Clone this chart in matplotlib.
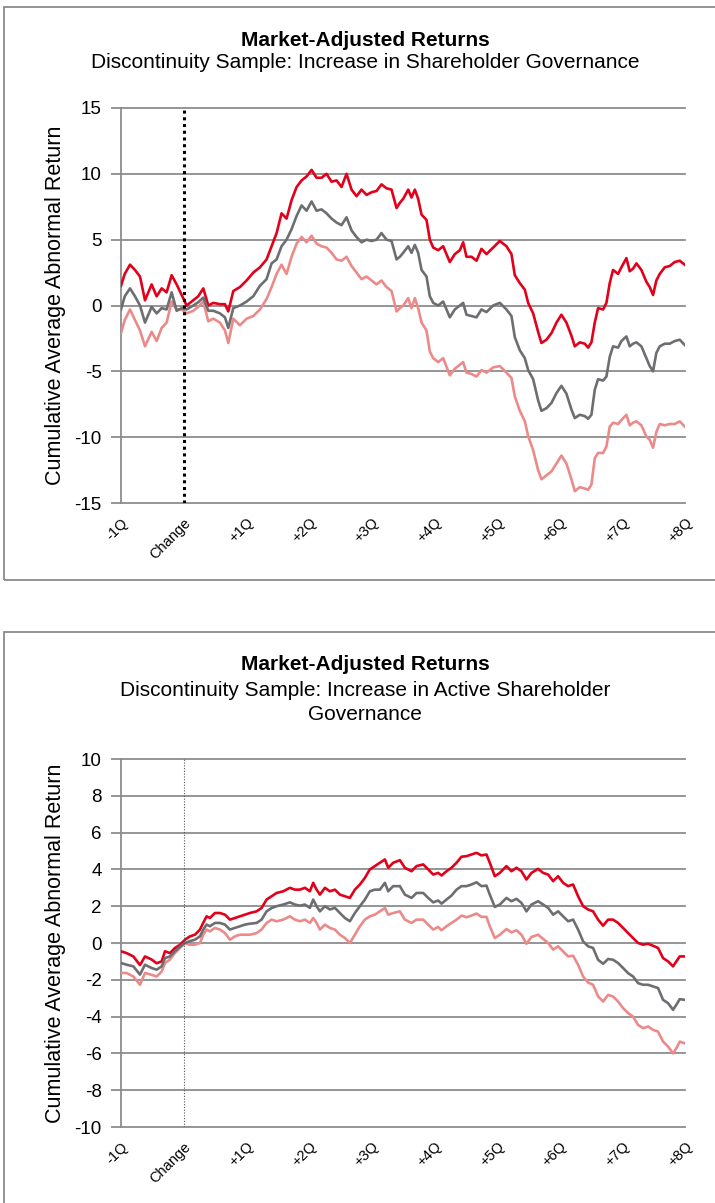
import numpy as np
import matplotlib
matplotlib.use("Agg")
import matplotlib.pyplot as plt
from matplotlib.patches import Rectangle

plt.rcParams['font.family'] = ['Liberation Sans', 'DejaVu Sans']

# x positions in quarters relative to the change (-1Q .. +8Q)
tick_pos = [-1, 0, 1, 2, 3, 4, 5, 6, 7, 8]
tick_labels = ['-1Q', 'Change', '+1Q', '+2Q', '+3Q', '+4Q', '+5Q', '+6Q', '+7Q', '+8Q']

# ---- panel 1: increase in shareholder governance ----
x_top = [-1.0, -0.94, -0.856, -0.777, -0.697, -0.617, -0.511, -0.431, -0.351, -0.272,
         -0.192, -0.112, -0.032, 0.047, 0.154, 0.233, 0.313, 0.393, 0.473, 0.579,
         0.659, 0.712, 0.792, 0.898, 1.004, 1.111, 1.217, 1.323, 1.403, 1.483,
         1.562, 1.642, 1.722, 1.802, 1.882, 1.961, 2.041, 2.121, 2.2, 2.28,
         2.36, 2.44, 2.519, 2.599, 2.679, 2.759, 2.838, 2.918, 2.998, 3.078,
         3.157, 3.237, 3.317, 3.397, 3.45, 3.503, 3.583, 3.636, 3.689, 3.742,
         3.796, 3.875, 3.928, 3.982, 4.061, 4.141, 4.247, 4.327, 4.407, 4.46,
         4.513, 4.593, 4.673, 4.752, 4.832, 4.939, 5.045, 5.151, 5.231, 5.284,
         5.364, 5.444, 5.497, 5.577, 5.656, 5.709, 5.789, 5.869, 5.949, 6.028,
         6.108, 6.188, 6.241, 6.321, 6.4, 6.454, 6.507, 6.56, 6.613, 6.693,
         6.746, 6.799, 6.852, 6.932, 6.985, 7.065, 7.118, 7.171, 7.225, 7.304,
         7.384, 7.437, 7.49, 7.543, 7.597, 7.677, 7.756, 7.836, 7.916, 7.995]
top_upper = [1.5, 2.4, 3.1, 2.7, 2.2, 0.4, 1.6, 0.7, 1.3, 1.0,
             2.3, 1.6, 0.8, 0.0, 0.4, 0.7, 1.3, 0.0, 0.2, 0.1,
             0.1, -0.45, 1.1, 1.4, 1.9, 2.5, 2.9, 3.5, 4.5, 5.5,
             7.0, 6.6, 8.0, 9.0, 9.5, 9.8, 10.3, 9.7, 9.7, 10.0,
             9.4, 9.5, 9.0, 10.0, 8.8, 8.3, 8.8, 8.4, 8.6, 8.7,
             9.2, 8.9, 8.8, 7.4, 7.8, 8.1, 8.8, 8.2, 8.8, 8.1,
             6.9, 6.5, 5.0, 4.4, 4.2, 4.5, 3.3, 3.9, 4.2, 4.8,
             3.7, 3.7, 3.4, 4.3, 3.9, 4.4, 4.9, 4.5, 3.9, 2.3,
             1.7, 1.2, 0.2, -0.6, -2.0, -2.85, -2.6, -2.1, -1.3, -0.7,
             -1.3, -2.3, -3.1, -2.8, -2.9, -3.2, -2.8, -1.3, -0.2, -0.3,
             0.2, 1.7, 2.7, 2.4, 2.9, 3.6, 2.6, 2.8, 3.2, 2.7,
             1.8, 1.4, 0.8, 1.9, 2.4, 2.9, 3.0, 3.3, 3.4, 3.1]
top_mean = [-0.3, 0.7, 1.3, 0.7, 0.0, -1.3, -0.1, -0.6, -0.2, -0.3,
            1.0, -0.4, -0.2, -0.3, 0.0, 0.25, 0.6, -0.4, -0.4, -0.6,
            -0.9, -1.7, -0.2, 0.0, 0.3, 0.7, 1.5, 2.0, 3.2, 3.5,
            4.5, 5.0, 5.8, 6.8, 7.6, 7.2, 7.9, 7.2, 7.3, 7.0,
            6.6, 6.3, 6.1, 6.7, 5.7, 5.2, 4.8, 5.0, 4.9, 5.0,
            5.5, 5.0, 4.9, 3.5, 3.7, 4.0, 4.5, 4.0, 4.6, 4.0,
            2.7, 2.2, 0.7, 0.2, 0.0, 0.3, -0.9, -0.3, 0.0, 0.2,
            -0.7, -0.8, -0.9, -0.3, -0.5, 0.0, 0.2, -0.3, -0.8, -2.4,
            -3.4, -4.0, -4.9, -5.6, -7.2, -8.0, -7.8, -7.4, -6.65, -6.1,
            -6.7, -7.9, -8.55, -8.3, -8.4, -8.6, -8.3, -6.4, -5.6, -5.7,
            -5.4, -3.9, -3.1, -3.2, -2.7, -2.35, -3.1, -2.9, -2.8, -3.1,
            -4.0, -4.6, -5.0, -3.6, -3.1, -2.9, -2.9, -2.7, -2.6, -3.0]
top_lower = [-2.1, -1.1, -0.3, -1.1, -1.9, -3.1, -2.0, -2.7, -1.7, -1.3,
             0.3, -0.3, -0.3, -0.6, -0.4, -0.1, 0.3, -1.2, -1.0, -1.3,
             -1.9, -2.85, -1.0, -1.5, -1.0, -0.8, -0.3, 0.5, 1.4, 2.4,
             3.1, 2.4, 3.7, 4.7, 5.2, 4.8, 5.3, 4.7, 4.5, 4.4,
             4.0, 3.5, 3.4, 3.7, 3.0, 2.5, 2.0, 2.2, 1.9, 1.6,
             1.9, 1.4, 1.1, -0.45, -0.2, 0.0, 0.56, -0.2, 0.56, -0.2,
             -1.3, -1.9, -3.5, -4.0, -4.3, -4.0, -5.3, -4.8, -4.5, -4.3,
             -5.1, -5.2, -5.4, -4.9, -5.1, -4.7, -4.6, -5.1, -5.5, -6.9,
             -8.0, -8.8, -9.9, -11.0, -12.5, -13.2, -12.9, -12.6, -12.0, -11.4,
             -12.0, -13.2, -14.1, -13.8, -13.9, -14.0, -13.6, -11.6, -11.2, -11.2,
             -10.7, -9.2, -8.9, -9.0, -8.7, -8.3, -9.1, -8.9, -8.8, -9.1,
             -9.95, -10.2, -10.8, -9.6, -9.0, -9.1, -9.0, -9.0, -8.8, -9.2]

# ---- panel 2: increase in active shareholder governance ----
x_bot = [-1.0, -0.91, -0.803, -0.697, -0.617, -0.511, -0.431, -0.351, -0.298, -0.219,
         -0.139, -0.059, 0.021, 0.10, 0.18, 0.26, 0.313, 0.366, 0.419, 0.499,
         0.579, 0.659, 0.738, 0.818, 0.898, 0.978, 1.057, 1.164, 1.243, 1.323,
         1.403, 1.483, 1.589, 1.695, 1.775, 1.855, 1.935, 2.014, 2.067, 2.121,
         2.174, 2.254, 2.333, 2.413, 2.493, 2.573, 2.652, 2.732, 2.812, 2.892,
         2.971, 3.051, 3.131, 3.211, 3.264, 3.343, 3.45, 3.53, 3.636, 3.716,
         3.822, 3.902, 3.982, 4.061, 4.115, 4.194, 4.274, 4.354, 4.434, 4.513,
         4.593, 4.673, 4.752, 4.832, 4.885, 4.965, 5.045, 5.151, 5.231, 5.311,
         5.39, 5.47, 5.55, 5.656, 5.736, 5.816, 5.896, 5.975, 6.055, 6.135,
         6.214, 6.294, 6.374, 6.454, 6.533, 6.613, 6.693, 6.773, 6.852, 6.932,
         7.012, 7.092, 7.171, 7.251, 7.331, 7.411, 7.49, 7.57, 7.65, 7.73,
         7.809, 7.862, 7.916, 7.995]
bot_upper = [-0.45, -0.55, -0.73, -1.2, -0.73, -0.9, -1.1, -1.0, -0.45, -0.55,
             -0.27, -0.1, 0.18, 0.36, 0.45, 0.73, 1.1, 1.45, 1.36, 1.63,
             1.63, 1.54, 1.27, 1.36, 1.45, 1.54, 1.63, 1.72, 1.9, 2.36,
             2.54, 2.72, 2.81, 3.0, 2.9, 2.9, 3.0, 2.81, 3.27, 2.9,
             2.63, 3.0, 2.81, 2.9, 2.63, 2.54, 2.45, 2.9, 3.18, 3.54,
             4.0, 4.18, 4.36, 4.54, 4.09, 4.36, 4.5, 4.09, 3.9, 4.18,
             4.27, 4.0, 3.72, 3.81, 3.67, 3.9, 4.09, 4.36, 4.69, 4.72,
             4.81, 4.9, 4.76, 4.81, 4.36, 3.63, 3.81, 4.18, 3.9, 4.09,
             3.9, 3.45, 3.81, 4.03, 3.81, 3.72, 3.36, 3.63, 3.27, 3.09,
             3.18, 2.54, 2.0, 1.82, 1.72, 1.27, 0.94, 1.27, 1.27, 1.09,
             0.82, 0.54, 0.27, 0.0, -0.09, -0.04, -0.15, -0.27, -0.82, -1.0,
             -1.27, -1.0, -0.73, -0.73]
bot_mean = [-1.09, -1.18, -1.27, -1.72, -1.18, -1.36, -1.45, -1.27, -0.82, -0.73,
            -0.45, -0.2, 0.0, 0.1, 0.18, 0.36, 0.73, 1.0, 0.91, 1.09,
            1.09, 1.0, 0.73, 0.82, 0.91, 1.0, 1.05, 1.09, 1.27, 1.72,
            1.9, 2.0, 2.09, 2.21, 2.09, 2.03, 2.09, 1.91, 2.36, 2.0,
            1.72, 2.0, 1.82, 1.91, 1.63, 1.36, 1.18, 1.63, 2.0, 2.36,
            2.81, 2.9, 2.9, 3.27, 2.81, 3.09, 3.09, 2.63, 2.45, 2.72,
            2.72, 2.45, 2.21, 2.31, 2.14, 2.36, 2.58, 2.9, 3.09, 3.09,
            3.18, 3.3, 3.09, 3.12, 2.63, 1.96, 2.09, 2.45, 2.27, 2.4,
            2.18, 1.72, 2.09, 2.27, 2.09, 1.91, 1.54, 1.72, 1.45, 1.18,
            1.27, 0.73, 0.09, -0.18, -0.27, -0.91, -1.13, -0.87, -0.91, -1.09,
            -1.36, -1.64, -1.82, -2.18, -2.27, -2.27, -2.36, -2.45, -3.09, -3.27,
            -3.63, -3.36, -3.05, -3.09]
bot_lower = [-1.63, -1.63, -1.82, -2.27, -1.63, -1.73, -1.82, -1.55, -1.09, -0.9,
             -0.54, -0.27, 0.0, -0.1, -0.09, 0.0, 0.45, 0.73, 0.63, 0.82,
             0.73, 0.54, 0.18, 0.36, 0.45, 0.45, 0.45, 0.54, 0.73, 1.09,
             1.27, 1.18, 1.27, 1.45, 1.27, 1.18, 1.27, 1.09, 1.36, 1.09,
             0.73, 1.0, 0.82, 0.73, 0.45, 0.27, 0.0, 0.45, 0.91, 1.27,
             1.45, 1.54, 1.72, 1.9, 1.54, 1.63, 1.72, 1.27, 1.09, 1.27,
             1.27, 1.0, 0.73, 0.87, 0.69, 0.91, 1.09, 1.27, 1.49, 1.4,
             1.49, 1.6, 1.42, 1.42, 0.91, 0.27, 0.45, 0.76, 0.58, 0.69,
             0.45, -0.04, 0.33, 0.45, 0.22, 0.0, -0.36, -0.18, -0.46, -0.73,
             -0.69, -1.18, -1.82, -2.15, -2.27, -2.9, -3.18, -2.82, -2.91, -3.18,
             -3.54, -3.81, -4.0, -4.45, -4.63, -4.54, -4.72, -4.82, -5.36, -5.63,
             -6.0, -5.72, -5.36, -5.45]

RED = '#e2001a'
GRAY = '#6d6e71'
PINK = '#ec8a8a'
GRID = '#8c8c8c'

W, H = 715, 1203
fig = plt.figure(figsize=(W / 100, H / 100), dpi=100)


def px_box(x0, y0, x1, y1):
    # figure-pixel box (top-left origin) -> axes rect
    return [x0 / W, 1 - y1 / H, (x1 - x0) / W, (y1 - y0) / H]


def panel(rect, x, upper, mean, lower, ylim, ystep, vline_style):
    ax = fig.add_axes(rect)
    ax.plot(x, upper, color=RED, lw=1.9, zorder=4)
    ax.plot(x, mean, color=GRAY, lw=1.9, zorder=4)
    ax.plot(x, lower, color=PINK, lw=1.9, zorder=3)
    ax.set_xlim(-1, 8)
    ax.set_ylim(*ylim)
    yt = np.arange(ylim[0], ylim[1] + ystep / 2, ystep)
    ax.set_yticks(yt)
    ax.set_yticklabels([f'{v:g}' for v in yt], fontsize=13.5)
    for v in yt:
        ax.axhline(v, color=GRID, lw=1.3, zorder=1, clip_on=False)
    ax.axvline(0, **vline_style)
    for s in ['top', 'right', 'bottom']:
        ax.spines[s].set_visible(False)
    ax.spines['left'].set_color(GRID)
    ax.spines['left'].set_linewidth(1.3)
    ax.tick_params(axis='y', length=7, width=1.3, color=GRID, pad=7)
    ax.tick_params(axis='x', length=0, pad=9)
    ax.set_xticks(tick_pos)
    ax.set_xticklabels(tick_labels, rotation=45, ha='right', va='top',
                       rotation_mode='anchor', fontsize=10.5)
    ax.set_ylabel('Cumulative Average Abnormal Return', fontsize=15.5)
    ax.yaxis.set_label_coords(-0.097, 0.5)
    return ax


ax1 = panel(px_box(121, 108, 685, 503), x_top, top_upper, top_mean, top_lower,
            (-15, 15), 5,
            dict(color='black', lw=2.2, ls=(0, (1, 1.2)), zorder=5))
ax2 = panel(px_box(121, 759, 685, 1127), x_bot, bot_upper, bot_mean, bot_lower,
            (-10, 10), 2,
            dict(color='#555555', lw=0.8, ls=(0, (1, 1.5)), zorder=5))

# titles
title_kw = dict(ha='center', va='center', fontsize=15)
fig.text(365 / W, 1 - 40 / H, 'Market-Adjusted Returns', fontweight='bold', **title_kw)
fig.text(365 / W, 1 - 63 / H, 'Discontinuity Sample: Increase in Shareholder Governance',
         **title_kw)
fig.text(365 / W, 1 - 665 / H, 'Market-Adjusted Returns', fontweight='bold', **title_kw)
fig.text(365 / W, 1 - 690 / H, 'Discontinuity Sample: Increase in Active Shareholder',
         **title_kw)
fig.text(365 / W, 1 - 715 / H, 'Governance', **title_kw)

# chart borders
fig.add_artist(Rectangle((4 / W, 1 - 580 / H), 730 / W, 573 / H, transform=fig.transFigure,
                         fill=False, ec='#8a8a8a', lw=1.3))
fig.add_artist(Rectangle((4 / W, -10 / H), 730 / W, (1203 - 632 + 10) / H,
                         transform=fig.transFigure, fill=False, ec='#8a8a8a', lw=1.3))

fig.savefig('out.png', dpi=100)
